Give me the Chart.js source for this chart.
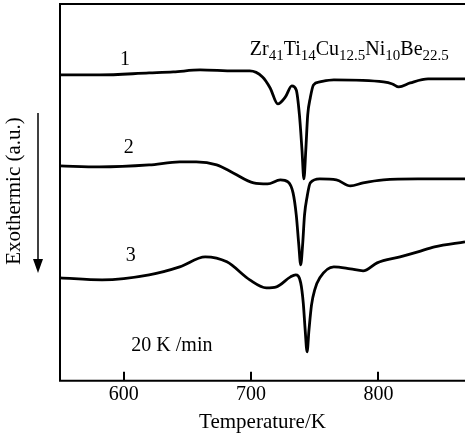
<!DOCTYPE html>
<html>
<head>
<meta charset="utf-8">
<script src="https://cdn.jsdelivr.net/npm/chart.js@4"></script>
<style>
  html, body { margin: 0; padding: 0; background: #fff; }
</style>
</head>
<body>
<canvas id="dscChart" width="465" height="439"></canvas>
<script>
// DSC traces, heat flow in arbitrary units (curves offset vertically)
const curve1T = [550, 581, 620, 639, 660, 687, 699, 709, 715, 721, 727, 732, 735.5, 738, 740, 741.5, 743, 744.5, 746.5, 749, 754, 765, 804, 811, 816, 825, 839, 868];
const curve1Y = [30.6, 30.6, 30.8, 30.9, 31.1, 31.0, 31.0, 30.4, 29.3, 27.7, 28.4, 29.5, 29.1, 26.6, 23.1, 20.2, 23.1, 26.6, 28.3, 29.6, 29.9, 30.1, 29.9, 29.7, 29.4, 29.8, 30.2, 30.2];

const curve2T = [550, 581, 620, 644, 657, 673, 686, 702, 713, 723, 729, 733, 735.5, 737.5, 739, 740.5, 742, 744, 746.5, 754, 767, 778, 788, 804, 831, 868];
const curve2Y = [21.5, 21.4, 21.6, 21.9, 21.9, 21.6, 20.8, 19.8, 19.7, 20.1, 19.9, 18.8, 16.6, 13.6, 11.6, 13.6, 16.6, 18.4, 19.8, 20.2, 20.1, 19.5, 19.8, 20.1, 20.2, 20.2];

const curve3T = [550, 583, 620, 644, 664, 681, 699, 712, 720, 731, 735, 739, 741, 742.5, 744, 745.5, 747.5, 750, 754, 765, 778, 788, 799, 817, 831, 844, 868];
const curve3Y = [10.3, 10.1, 10.6, 11.4, 12.4, 11.9, 10.1, 9.3, 9.4, 10.4, 10.6, 9.8, 7.8, 5.1, 2.9, 5.1, 7.6, 9.1, 10.3, 11.4, 11.2, 11.0, 11.8, 12.4, 12.9, 13.4, 13.9];

const curveNames = ['1', '2', '3'];
const xTicks = [600, 700, 800];

const serif = '"Liberation Serif", "DejaVu Serif", serif';

function toPoints(ts, ys) {
    return ts.map((t, i) => ({ x: t, y: ys[i] }));
}

// frame, inward ticks, axis label with arrow and text annotations
const decorations = {
    id: 'decorations',
    afterDraw(chart) {
        const { ctx, chartArea: a, scales: { x, y } } = chart;
        ctx.save();
        ctx.strokeStyle = '#000';
        ctx.fillStyle = '#000';
        ctx.lineWidth = 2;
        ctx.beginPath();
        ctx.moveTo(a.right, a.top);
        ctx.lineTo(a.left, a.top);
        ctx.lineTo(a.left, a.bottom);
        ctx.lineTo(a.right, a.bottom);
        xTicks.forEach(t => {
            const px = Math.round(x.getPixelForValue(t));
            ctx.moveTo(px, a.bottom);
            ctx.lineTo(px, a.bottom - 9);
        });
        ctx.stroke();

        // y axis title
        ctx.save();
        ctx.translate(14, 191);
        ctx.rotate(-Math.PI / 2);
        ctx.font = '21px ' + serif;
        ctx.textAlign = 'center';
        ctx.textBaseline = 'middle';
        ctx.fillText('Exothermic (a.u.)', 0, 0);
        ctx.restore();

        // arrow
        ctx.lineWidth = 1.5;
        ctx.beginPath();
        ctx.moveTo(38, 113);
        ctx.lineTo(38, 262);
        ctx.stroke();
        ctx.beginPath();
        ctx.moveTo(33, 259);
        ctx.lineTo(43, 259);
        ctx.lineTo(38, 273);
        ctx.closePath();
        ctx.fill();

        // curve numbers
        ctx.font = '20px ' + serif;
        ctx.textAlign = 'center';
        ctx.textBaseline = 'middle';
        const labelPos = [[601, 32.1], [604, 23.3], [605.5, 12.5]];
        curveNames.forEach((n, i) => {
            ctx.fillText(n, x.getPixelForValue(labelPos[i][0]), y.getPixelForValue(labelPos[i][1]));
        });

        // alloy formula with subscripts
        const parts = [['Zr', '41'], ['Ti', '14'], ['Cu', '12.5'], ['Ni', '10'], ['Be', '22.5']];
        let fx = x.getPixelForValue(699);
        const fy = y.getPixelForValue(32.6);
        ctx.textAlign = 'left';
        ctx.textBaseline = 'alphabetic';
        parts.forEach(([el, sub]) => {
            ctx.font = '20px ' + serif;
            ctx.fillText(el, fx, fy);
            fx += ctx.measureText(el).width;
            ctx.font = '15px ' + serif;
            ctx.fillText(sub, fx, fy + 5);
            fx += ctx.measureText(sub).width;
        });

        // heating rate
        ctx.font = '20px ' + serif;
        ctx.fillText('20 K /min', x.getPixelForValue(606), y.getPixelForValue(3.0));
        ctx.restore();
    }
};

const lineStyle = {
    borderColor: '#000',
    borderWidth: 2.8,
    pointRadius: 0,
    fill: false,
    cubicInterpolationMode: 'monotone'
};

const ctx = document.getElementById('dscChart').getContext('2d');
const dscChart = new Chart(ctx, {
    type: 'line',
    data: {
        datasets: [
            Object.assign({ label: curveNames[0], data: toPoints(curve1T, curve1Y) }, lineStyle),
            Object.assign({ label: curveNames[1], data: toPoints(curve2T, curve2Y) }, lineStyle),
            Object.assign({ label: curveNames[2], data: toPoints(curve3T, curve3Y) }, lineStyle)
        ]
    },
    options: {
        responsive: false,
        animation: false,
        devicePixelRatio: 1,
        layout: {
            padding: { left: 60, top: 4, right: 0, bottom: 2 }
        },
        plugins: {
            legend: { display: false },
            tooltip: { enabled: false }
        },
        scales: {
            x: {
                type: 'linear',
                min: 550,
                max: 868,
                grid: { display: false, drawTicks: false },
                border: { display: false },
                afterBuildTicks: function(scale) {
                    scale.ticks = xTicks.map(v => ({ value: v }));
                },
                ticks: {
                    color: '#000',
                    padding: 2,
                    autoSkip: false,
                    maxRotation: 0,
                    font: { family: serif, size: 20 }
                },
                title: {
                    display: true,
                    text: 'Temperature/K',
                    color: '#000',
                    padding: { top: 1, bottom: 2 },
                    font: { family: serif, size: 21 }
                }
            },
            y: {
                type: 'linear',
                display: false,
                min: 0,
                max: 37.7
            }
        }
    },
    plugins: [decorations]
});
</script>
</body>
</html>
